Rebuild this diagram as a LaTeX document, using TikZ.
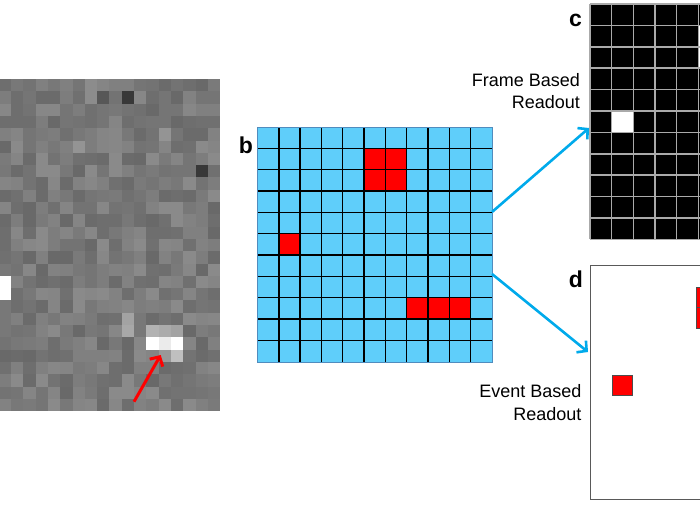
\documentclass[tikz,border=0pt]{standalone}
\usepackage{fontspec}
\setmainfont{Liberation Sans}
\usetikzlibrary{arrows.meta}
\definecolor{pixblue}{RGB}{95,206,250}
\definecolor{arrblue}{RGB}{0,170,235}
\definecolor{gridgray}{RGB}{170,170,170}
\definecolor{bframe}{RGB}{80,140,190}
\newcommand\gpix[3]{\fill[black!#3] ({11+#1*12.3},{79+#2*12.3}) rectangle ++(12.3,12.3);}
\begin{document}
\begin{tikzpicture}[x=1pt,y=-1pt,
  panellabel/.style={font=\bfseries\fontsize{23}{23}\selectfont,anchor=base,inner sep=0pt},
  readtext/.style={font=\fontsize{18}{21.7}\selectfont,anchor=base east,inner sep=0pt},
  bluearrow/.style={arrblue,line width=2.6pt,-{Straight Barb[length=7pt,width=15pt]}},
  redarrow/.style={red,line width=3pt,-{Straight Barb[length=7pt,width=15pt]}},
  bline/.style={black,line width=1.4pt},
  cline/.style={gridgray,line width=1.5pt},
  redcell/.style={fill=red,draw=black!70,line width=0.8pt}]
\useasboundingbox (0,0) rectangle (700,507);
\clip (0,0) rectangle (700,507);
% ---------- panel a : noisy grey pixel image
\pgfmathsetseed{11}
\foreach \r in {0,...,26}{
  \foreach \c in {-1,...,16}{
    \pgfmathsetmacro{\g}{int(53+7*rand)}
    \fill[black!\g] ({11+\c*12.3},{79+\r*12.3}) rectangle ++(12.6,12.6);
  }
}
\gpix{-1}{16}{0}\gpix{-1}{17}{0}
\gpix{11}{21}{0}\gpix{12}{21}{8}\gpix{13}{21}{0}
\gpix{11}{20}{30}\gpix{12}{20}{33}\gpix{13}{20}{36}
\gpix{11}{22}{48}\gpix{12}{22}{40}\gpix{13}{22}{25}
\gpix{9}{19}{36}\gpix{9}{20}{34}
\gpix{9}{1}{78}\gpix{15}{7}{78}\gpix{7}{1}{66}
\gpix{6}{0}{45}\gpix{6}{1}{45}\gpix{5}{5}{42}\gpix{12}{4}{42}
\coordinate (aTail) at (134,401.7);
\coordinate (aTip) at (160.7,355);
\draw[redarrow] (aTail) -- (aTip);
% ---------- panel b : pixel matrix
\fill[pixblue] (257.5,127) rectangle (492,362);
\foreach \cc/\rr in {5/1,6/1,5/2,6/2,1/5,7/8,8/8,9/8}{
  \fill[red] ({257.5+\cc*21.32},{127+\rr*21.32}) rectangle ++(21.32,21.32);
}
\foreach \i in {1,...,10}{
  \draw[bline] ({257.5+\i*21.32},127) -- ++(0,235);
  \draw[bline] (257.5,{127+\i*21.32}) -- ++(234.5,0);
}
\draw[bframe,line width=0.9pt] (257.5,127) rectangle (492,362);
\node[panellabel] (lb) at (245.8,153.3) {b};
% ---------- panel c : frame based readout
\fill[black] (590,4) rectangle (720,239.4);
\fill[white] ({590+1*21.65},{4+5*21.4}) rectangle ++(21.65,21.4);
\fill[white] ({590+5*21.65},{4+1*21.4}) rectangle ++(21.65,42.8);
\foreach \k in {0,...,6}{\draw[cline] ({590+\k*21.65},4) -- ({590+\k*21.65},239.4);}
\foreach \k in {0,...,11}{\draw[cline] (590,{4+\k*21.4}) -- (720,{4+\k*21.4});}
\node[panellabel] (lc) at (575.5,26) {c};
\node[readtext] (fb1) at (580,86.7) {Frame Based};
\node[readtext] (fb2) at (580,108.3) {Readout};
% ---------- panel d : event based readout
\draw[black!65,line width=0.8pt] (590,265) rectangle (760,499);
\draw[redcell] (612.3,375) rectangle (632.3,395.7);
\draw[redcell] (696,287) rectangle (717,307.5);
\draw[redcell] (696,307.5) rectangle (717,328.3);
\node[panellabel] (ld) at (575.8,287.3) {d};
\node[readtext] (eb1) at (581.7,397.7) {Event Based};
\node[readtext] (eb2) at (581.7,420) {Readout};
% ---------- arrows
\coordinate (bOut1) at (492,212);
\coordinate (bOut2) at (492,274);
\coordinate (cIn) at (589,128);
\coordinate (dIn) at (588,352);
\draw[bluearrow] (bOut1) -- (cIn);
\draw[bluearrow] (bOut2) -- (dIn);
\end{tikzpicture}
\end{document}
